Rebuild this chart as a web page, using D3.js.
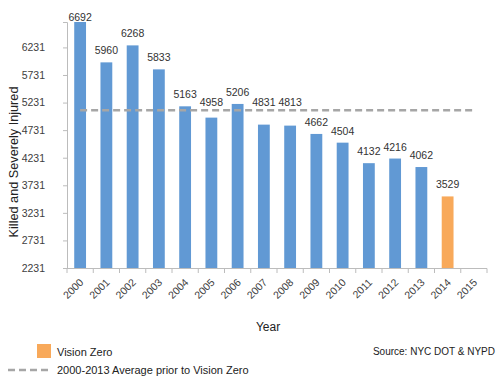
<!DOCTYPE html>
<html>
<head>
<meta charset="utf-8">
<script src="https://cdn.jsdelivr.net/npm/d3@7"></script>
<style>
  body { margin: 0; background: #fff; }
  text { font-family: "Liberation Sans", Arial, sans-serif; }
</style>
</head>
<body>
<div class="chart"></div>
<script>
// chart data
var years = ["2000", "2001", "2002", "2003", "2004", "2005", "2006", "2007",
             "2008", "2009", "2010", "2011", "2012", "2013", "2014", "2015"];
var injured = [6692, 5960, 6268, 5833, 5163, 4958, 5206, 4831,
               4813, 4662, 4504, 4132, 4216, 4062, 3529, null];
var visionZeroYears = ["2014"];
var yTicks = [2231, 2731, 3231, 3731, 4231, 4731, 5231, 5731, 6231];
var avgPrior = 5093; // 2000-2013 average

var svgWidth = 500, svgHeight = 378;

var svg = d3.select(".chart")
    .append("svg")
    .attr("width", svgWidth)
    .attr("height", svgHeight);

// scales
var x = d3.scaleBand()
    .domain(years)
    .range([67, 487])
    .paddingInner(0.55)
    .paddingOuter(0.275);

var y = d3.scaleLinear()
    .domain([2231, 6692])
    .range([268, 22]);

var blue = "#6199d4", orange = "#f8a95a", axisGrey = "#bcbcbc";

// y axis
var yAxis = d3.axisLeft(y)
    .tickValues(yTicks)
    .tickFormat(d3.format("d"))
    .tickSize(4)
    .tickPadding(18);
var gy = svg.append("g")
    .attr("transform", "translate(67,0)")
    .call(yAxis);
gy.select(".domain").attr("stroke", axisGrey);
gy.selectAll(".tick line").attr("stroke", axisGrey);
gy.selectAll(".tick text")
    .attr("fill", "#404040")
    .style("font-family", "'Liberation Sans', Arial, sans-serif")
    .style("font-size", "10.5px");

// x axis: line, ticks at band edges, rotated labels
var step = x.step();
svg.append("line")
    .attr("x1", x.range()[0]).attr("x2", x.range()[1])
    .attr("y1", 268.5).attr("y2", 268.5)
    .attr("stroke", axisGrey);

svg.selectAll(".xtick")
    .data(years.concat(["end"]))
    .enter()
    .append("line")
    .attr("class", "xtick")
    .attr("x1", (d, i) => x.range()[0] + i * step)
    .attr("x2", (d, i) => x.range()[0] + i * step)
    .attr("y1", 268.5).attr("y2", 273)
    .attr("stroke", axisGrey);

svg.selectAll(".xlabel")
    .data(years)
    .enter()
    .append("text")
    .attr("class", "xlabel")
    .attr("text-anchor", "end")
    .attr("transform", function (d) {
        var cx = x(d) + x.bandwidth() / 2 + 4;
        return "translate(" + cx + ",283) rotate(-45)";
    })
    .attr("fill", "#404040")
    .style("font-size", "10.5px")
    .text(d => d);

// bars
var barData = years.map((d, i) => ({ year: d, value: injured[i] }))
    .filter(d => d.value != null);

svg.selectAll(".bar")
    .data(barData)
    .enter()
    .append("rect")
    .attr("class", "bar")
    .attr("x", d => x(d.year))
    .attr("width", x.bandwidth())
    .attr("y", d => y(d.value))
    .attr("height", d => y(2231) - y(d.value))
    .attr("fill", d => visionZeroYears.includes(d.year) ? orange : blue);

// average line
var yAvg = y(avgPrior);
svg.append("line")
    .attr("x1", x(years[0]) + x.bandwidth() / 2)
    .attr("x2", x(years[years.length - 1]) + x.bandwidth() / 2)
    .attr("y1", yAvg).attr("y2", yAvg)
    .attr("stroke", "#a6a6a6")
    .attr("stroke-width", 2.5)
    .attr("stroke-dasharray", "7,4");

// value labels (moved above the average line when they would touch it)
svg.selectAll(".vlabel")
    .data(barData)
    .enter()
    .append("text")
    .attr("class", "vlabel")
    .attr("text-anchor", "middle")
    .attr("x", d => x(d.year) + x.bandwidth() / 2)
    .attr("y", function (d) {
        var cy = y(d.value) - 12;
        if (Math.abs(cy - yAvg) < 9) cy = yAvg - 8;
        cy = Math.max(cy, 17);
        return cy + 4;
    })
    .attr("fill", "#333")
    .style("font-size", "10.5px")
    .text(d => d.value);

// axis titles
svg.append("text")
    .attr("transform", "translate(18,162) rotate(-90)")
    .attr("text-anchor", "middle")
    .attr("fill", "#222")
    .style("font-size", "12.7px")
    .text("Killed and Severely Injured");

svg.append("text")
    .attr("x", 268).attr("y", 331)
    .attr("text-anchor", "middle")
    .attr("fill", "#222")
    .style("font-size", "12px")
    .text("Year");

// legend
svg.append("rect")
    .attr("x", 37).attr("y", 344)
    .attr("width", 14).attr("height", 14)
    .attr("fill", orange);
svg.append("text")
    .attr("x", 57).attr("y", 356)
    .attr("fill", "#222")
    .style("font-size", "11px")
    .text("Vision Zero");

svg.append("line")
    .attr("x1", 8).attr("x2", 49)
    .attr("y1", 370).attr("y2", 370)
    .attr("stroke", "#a6a6a6")
    .attr("stroke-width", 2.5)
    .attr("stroke-dasharray", "7,4");
svg.append("text")
    .attr("x", 57).attr("y", 374)
    .attr("fill", "#222")
    .style("font-size", "11px")
    .text("2000-2013 Average prior to Vision Zero");

svg.append("text")
    .attr("x", 495).attr("y", 355)
    .attr("text-anchor", "end")
    .attr("fill", "#222")
    .style("font-size", "10px")
    .text("Source: NYC DOT & NYPD");
</script>
</body>
</html>
